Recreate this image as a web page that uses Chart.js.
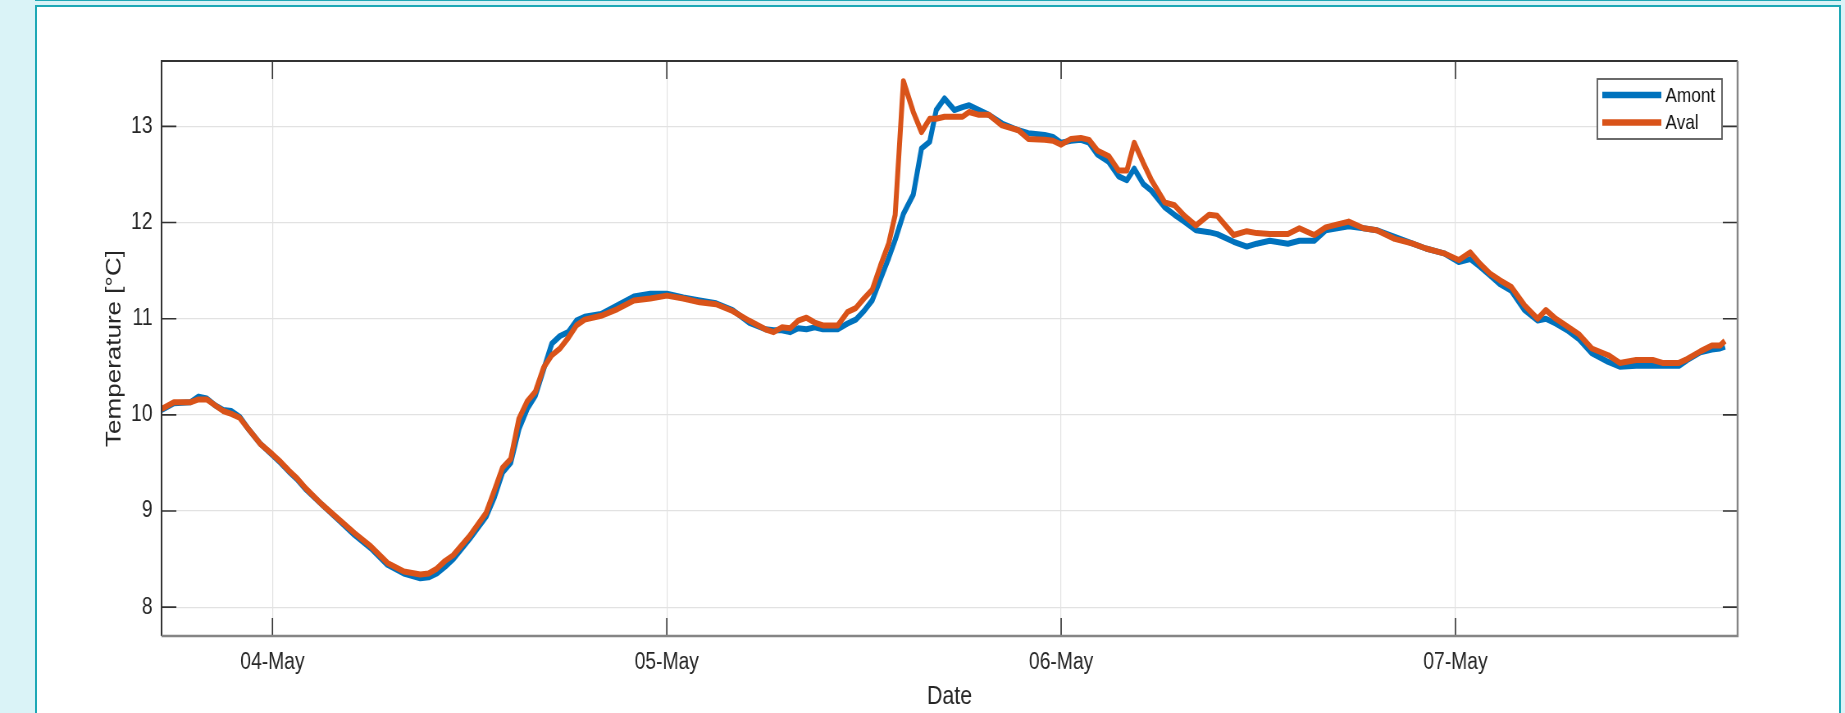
<!DOCTYPE html>
<html>
<head>
<meta charset="utf-8">
<title>Temperature Amont / Aval</title>
<script src="https://cdn.jsdelivr.net/npm/chart.js@4.4.1/dist/chart.umd.min.js"></script>
<style>
  html, body { margin: 0; padding: 0; width: 1845px; height: 713px; overflow: hidden; background: #daf3f7; }
  #topline { position: absolute; left: 35px; top: 0; width: 1806px; height: 1px; background: #1ea8b6; }
  #panel { position: absolute; left: 35px; top: 5px; width: 1802px; height: 730px; border: 2px solid #1ea8b6; background: #ffffff; }
  #chart { position: absolute; left: 0; top: 0; }
</style>
</head>
<body>
<div id="topline"></div>
<div id="panel"></div>
<!-- drawn 2250 wide, shown 1845 wide: the reference figure is squeezed horizontally -->
<canvas id="chart" width="2250" height="713" style="width:1845px;height:713px"></canvas>
<script>
// Hours since 04-May 00:00 (both probes share the same timestamps)
const hours = [
  -6.75, -6, -5, -4.5, -4, -3.5, -3, -2.5, -2, -1.5, -0.75,
  0, 0.5, 1, 1.5, 2, 3, 4, 5, 6, 7, 8, 9, 9.5, 10, 10.5, 11, 12, 13, 13.5, 14, 14.5,
  15, 15.5, 16, 16.5, 17, 17.5, 18, 18.5, 19, 20, 21, 22, 23,
  24, 25, 26, 27, 28, 29, 30, 30.5, 31, 31.5, 32, 32.5, 33, 33.5, 34.4, 35, 35.5,
  36, 36.5, 37, 37.5, 37.9, 38.4, 39, 39.5, 40, 40.4, 40.9, 41.5, 42, 42.4, 43, 43.6,
  44.4, 45.4, 46, 47, 47.5,
  48, 48.6, 49.2, 49.7, 50.2, 50.9, 51.5, 52, 52.45, 53, 53.5, 54.3, 54.9, 55.5, 56.2,
  57, 57.5, 58.5, 59.3, 59.9, 60.7, 61.8, 62.5, 63.4, 64.1, 65.5, 66.4, 67.2, 68.3,
  69.4, 70.2, 71.3,
  72.2, 72.9, 73.5, 74.1, 74.7, 75.4, 76.2, 77, 77.5, 78.1, 78.8, 79.5, 80.3, 81.3,
  82, 83, 84, 84.6, 85.6, 86.1, 86.9, 87.6, 88.1, 88.4
];

const amont = [
  10.05, 10.12, 10.13, 10.19, 10.17, 10.10, 10.05, 10.04, 9.98, 9.86, 9.70,
  9.58, 9.50, 9.41, 9.33, 9.23, 9.07, 8.91, 8.75, 8.61, 8.44, 8.35, 8.30, 8.31, 8.35, 8.42, 8.50, 8.71, 8.94, 9.14, 9.40, 9.50,
  9.85, 10.06, 10.20, 10.47, 10.74, 10.82, 10.86, 10.98, 11.02, 11.05, 11.14, 11.23, 11.26,
  11.26, 11.22, 11.19, 11.16, 11.09, 10.96, 10.89, 10.88, 10.88, 10.86, 10.90, 10.89, 10.91, 10.89, 10.89, 10.95, 10.99,
  11.08, 11.19, 11.41, 11.63, 11.82, 12.09, 12.29, 12.77, 12.84, 13.17, 13.29, 13.17, 13.20, 13.22, 13.17, 13.12,
  13.03, 12.96, 12.93, 12.91, 12.89,
  12.83, 12.85, 12.86, 12.83, 12.71, 12.63, 12.48, 12.44, 12.56, 12.40, 12.33, 12.16, 12.08, 12.01, 11.92,
  11.90, 11.88, 11.80, 11.75, 11.78, 11.81, 11.78, 11.81, 11.81, 11.92, 11.96, 11.94, 11.92, 11.85,
  11.78, 11.73, 11.68,
  11.59, 11.62, 11.54, 11.45, 11.36, 11.29, 11.09, 10.98, 11.00, 10.95, 10.88, 10.79, 10.64, 10.55,
  10.50, 10.51, 10.51, 10.51, 10.51, 10.57, 10.65, 10.68, 10.69, 10.71
];

const aval = [
  10.06, 10.13, 10.13, 10.16, 10.16, 10.10, 10.04, 10.01, 9.97, 9.86, 9.70,
  9.59, 9.51, 9.42, 9.34, 9.24, 9.07, 8.92, 8.77, 8.63, 8.46, 8.37, 8.34, 8.35, 8.40, 8.48, 8.54, 8.74, 8.98, 9.21, 9.45, 9.54,
  9.96, 10.14, 10.24, 10.49, 10.62, 10.69, 10.80, 10.93, 10.99, 11.03, 11.10, 11.19, 11.21,
  11.24, 11.21, 11.17, 11.15, 11.08, 10.98, 10.89, 10.86, 10.91, 10.90, 10.98, 11.01, 10.96, 10.93, 10.93, 11.07, 11.11,
  11.21, 11.30, 11.55, 11.78, 12.08, 13.47, 13.15, 12.94, 13.08, 13.08, 13.10, 13.10, 13.10, 13.15, 13.12, 13.12,
  13.01, 12.96, 12.87, 12.86, 12.85,
  12.81, 12.87, 12.88, 12.86, 12.75, 12.69, 12.54, 12.54, 12.83, 12.62, 12.44, 12.21, 12.18, 12.07, 11.97,
  12.08, 12.07, 11.87, 11.91, 11.89, 11.88, 11.88, 11.94, 11.87, 11.95, 12.01, 11.94, 11.92, 11.83,
  11.78, 11.73, 11.68,
  11.61, 11.69, 11.57, 11.47, 11.40, 11.33, 11.14, 11.00, 11.09, 11.00, 10.92, 10.84, 10.69, 10.62,
  10.54, 10.57, 10.57, 10.54, 10.54, 10.58, 10.66, 10.72, 10.72, 10.77
];

// Axis ticks
const dayHours = [0, 24, 48, 72];
const dayLabels = ['04-May', '05-May', '06-May', '07-May'];
const tempTicks = [8, 9, 10, 11, 12, 13];

(function() {
  const chartConfig = {
    colors: {
      amont: '#0072BD',
      aval: '#D95319',
      text: '#262626',
      grid: '#e2e2e2',
      axisDark: '#333333',
      axisLight: '#858585',
      legendEdge: '#5a5a5a'
    },
    fonts: {
      family: "'Liberation Sans', Arial, Helvetica, sans-serif",
      tick: 23.5,
      title: 26,
      legend: 21
    },
    tickLength: 18
  };

  Chart.defaults.font.family = chartConfig.fonts.family;
  Chart.defaults.color = chartConfig.colors.text;

  // Build {x, y} points from the named arrays
  function toPoints(values) {
    return hours.map((h, i) => ({ x: h, y: values[i] }));
  }

  // Inward tick marks + axes box (MATLAB look)
  const framePlugin = {
    id: 'frame',
    afterDraw(chart) {
      const { ctx, chartArea: a, scales } = chart;
      const t = chartConfig.tickLength;
      ctx.save();
      ctx.strokeStyle = chartConfig.colors.axisDark;
      ctx.lineWidth = 1.6;
      ctx.beginPath();
      scales.x.ticks.forEach(tk => {
        const px = scales.x.getPixelForValue(tk.value);
        ctx.moveTo(px, a.bottom); ctx.lineTo(px, a.bottom - t);
        ctx.moveTo(px, a.top); ctx.lineTo(px, a.top + t);
      });
      scales.y.ticks.forEach(tk => {
        const py = scales.y.getPixelForValue(tk.value);
        ctx.moveTo(a.left, py); ctx.lineTo(a.left + t, py);
        ctx.moveTo(a.right, py); ctx.lineTo(a.right - t, py);
      });
      ctx.stroke();

      // left + top edges dark, right + bottom lighter
      ctx.lineWidth = 2;
      ctx.beginPath();
      ctx.moveTo(a.left, a.bottom); ctx.lineTo(a.left, a.top); ctx.lineTo(a.right, a.top);
      ctx.stroke();
      ctx.strokeStyle = chartConfig.colors.axisLight;
      ctx.lineWidth = 2.4;
      ctx.beginPath();
      ctx.moveTo(a.right, a.top); ctx.lineTo(a.right, a.bottom); ctx.lineTo(a.left, a.bottom);
      ctx.stroke();
      ctx.restore();
    }
  };

  // Boxed legend in the upper right corner of the axes
  const boxLegendPlugin = {
    id: 'boxLegend',
    afterDraw(chart) {
      const { ctx, chartArea: a } = chart;
      const w = 152, h = 60;
      const left = a.right - 19 - w;
      const top = a.top + 18;
      const rows = [16, 43.5];
      ctx.save();
      ctx.fillStyle = '#ffffff';
      ctx.fillRect(left, top, w, h);
      ctx.strokeStyle = chartConfig.colors.legendEdge;
      ctx.lineWidth = 1.8;
      ctx.strokeRect(left, top, w, h);
      ctx.font = chartConfig.fonts.legend + 'px ' + chartConfig.fonts.family;
      ctx.textBaseline = 'middle';
      ctx.textAlign = 'left';
      chart.data.datasets.forEach((ds, i) => {
        const yy = top + rows[i];
        ctx.strokeStyle = ds.borderColor;
        ctx.lineWidth = 6.5;
        ctx.beginPath();
        ctx.moveTo(left + 6, yy);
        ctx.lineTo(left + 78, yy);
        ctx.stroke();
        ctx.fillStyle = '#111111';
        ctx.fillText(ds.label, left + 83, yy + 1);
      });
      ctx.restore();
    }
  };

  const canvas = document.getElementById('chart');

  new Chart(canvas, {
    type: 'line',
    data: {
      datasets: [
        {
          label: 'Amont',
          data: toPoints(amont),
          borderColor: chartConfig.colors.amont,
          borderWidth: 6,
          pointRadius: 0,
          tension: 0,
          borderJoinStyle: 'round',
          order: 1
        },
        {
          label: 'Aval',
          data: toPoints(aval),
          borderColor: chartConfig.colors.aval,
          borderWidth: 6,
          pointRadius: 0,
          tension: 0,
          borderJoinStyle: 'round',
          order: 0
        }
      ]
    },
    options: {
      responsive: false,
      devicePixelRatio: 1,
      animation: false,
      events: [],
      layout: { padding: { left: 124, right: 131, top: 61, bottom: 1 } },
      plugins: {
        legend: { display: false },
        tooltip: { enabled: false },
        title: { display: false }
      },
      scales: {
        x: {
          type: 'linear',
          min: -6.75,
          max: 89.17,
          afterBuildTicks: scale => { scale.ticks = dayHours.map(v => ({ value: v })); },
          afterFit: scale => { scale.height = 76; },
          ticks: {
            autoSkip: false,
            maxRotation: 0,
            padding: 12,
            color: chartConfig.colors.text,
            font: { size: chartConfig.fonts.tick },
            callback: (value, index) => dayLabels[index]
          },
          grid: { color: chartConfig.colors.grid, lineWidth: 1.2, drawTicks: false },
          border: { display: false },
          title: {
            display: true,
            text: 'Date',
            color: chartConfig.colors.text,
            font: { size: chartConfig.fonts.title },
            padding: { top: 0, bottom: 0 }
          }
        },
        y: {
          type: 'linear',
          min: 7.7,
          max: 13.68,
          afterBuildTicks: scale => { scale.ticks = tempTicks.map(v => ({ value: v })); },
          afterFit: scale => { scale.width = 73; },
          ticks: {
            padding: 11,
            color: chartConfig.colors.text,
            font: { size: chartConfig.fonts.tick }
          },
          grid: { color: chartConfig.colors.grid, lineWidth: 1.2, drawTicks: false },
          border: { display: false },
          title: {
            display: true,
            text: 'Temperature [°C]',
            color: chartConfig.colors.text,
            font: { size: chartConfig.fonts.title },
            padding: { top: 0, bottom: 0 }
          }
        }
      }
    },
    plugins: [framePlugin, boxLegendPlugin]
  });
})();
</script>
</body>
</html>
